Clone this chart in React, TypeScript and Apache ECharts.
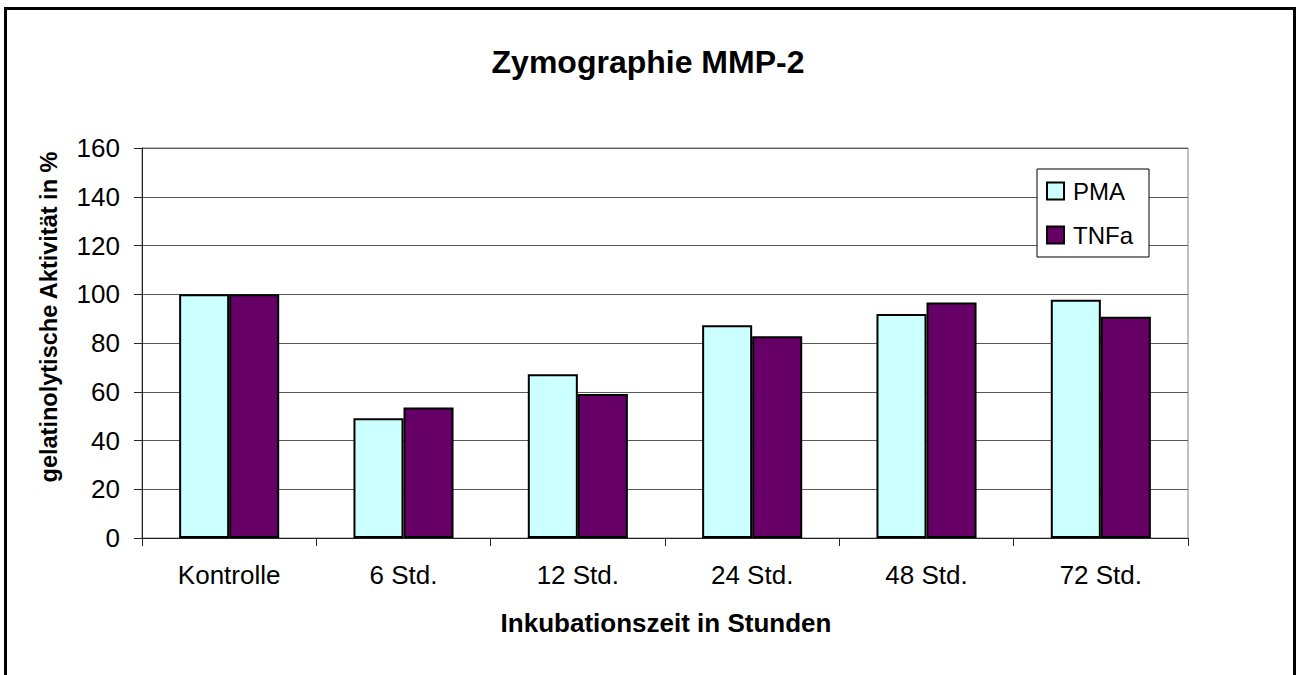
import React, { useEffect, useRef } from "react";
import * as echarts from "echarts";

const categories = ["Kontrolle", "6 Std.", "12 Std.", "24 Std.", "48 Std.", "72 Std."];
const pmaValues = [100, 49.1, 67.2, 87.3, 91.9, 97.7];
const tnfaValues = [100, 53.5, 59.1, 82.8, 96.6, 90.8];
const seriesNames = ["PMA", "TNFa"];
const titleText = "Zymographie MMP-2";
const yAxisName = "gelatinolytische Aktivität in %";
const xAxisName = "Inkubationszeit in Stunden";

const FONT = "'Liberation Sans', Arial, sans-serif";

export default function App() {
  const ref = useRef<HTMLDivElement>(null);
  useEffect(() => {
    if (!ref.current) return;
    const chart = echarts.init(ref.current, undefined, { renderer: "svg" });
    chart.setOption({
      animation: false,
      backgroundColor: "#ffffff",
      textStyle: { fontFamily: FONT },
      grid: { left: 142, top: 148, width: 1046, height: 390, show: true, borderColor: "#808080", borderWidth: 1, backgroundColor: "transparent" },
      legend: {
        data: seriesNames.map((n) => ({ name: n, icon: "rect" })),
        orient: "vertical",
        left: 1037,
        top: 169,
        itemWidth: 17,
        itemHeight: 17,
        itemGap: 20,
        padding: [10, 16, 10, 9],
        backgroundColor: "#ffffff",
        borderColor: "#000000",
        borderWidth: 1,
        textStyle: { fontFamily: FONT, fontSize: 24, color: "#000", lineHeight: 20, padding: [0, 0, 0, 4] },
        itemStyle: { borderColor: "#000", borderWidth: 2 },
      },
      xAxis: {
        type: "category",
        data: categories,
        axisLine: { lineStyle: { color: "#222", width: 1 } },
        axisTick: { show: true, length: 8, inside: false, lineStyle: { color: "#222" } },
        axisLabel: { fontFamily: FONT, fontSize: 26, color: "#000", margin: 24 },
        splitLine: { show: false },
      },
      yAxis: {
        type: "value",
        min: 0,
        max: 160,
        interval: 20,
        axisLine: { show: true, lineStyle: { color: "#222", width: 1 } },
        axisTick: { show: true, length: 8, lineStyle: { color: "#222" } },
        axisLabel: { fontFamily: FONT, fontSize: 26, color: "#000", margin: 22 },
        splitLine: { show: true, lineStyle: { color: "#595959", width: 1 } },
      },
      series: [
        {
          name: seriesNames[0],
          type: "bar",
          data: pmaValues,
          barGap: "0%",
          barCategoryGap: "42.6%",
          itemStyle: { color: "#CCFFFF", borderColor: "#000", borderWidth: 2 },
        },
        {
          name: seriesNames[1],
          type: "bar",
          data: tnfaValues,
          barGap: "0%",
          barCategoryGap: "42.6%",
          itemStyle: { color: "#660066", borderColor: "#000", borderWidth: 2 },
        },
      ],
      graphic: [
        {
          type: "rect",
          shape: { x: 5.5, y: 8.5, width: 1289, height: 700 },
          style: { fill: "none", stroke: "#000", lineWidth: 3 },
          silent: true,
          z: 100,
        },
        {
          type: "text",
          x: 648,
          y: 62,
          style: { text: titleText, font: `bold 32px ${FONT}`, fill: "#000", textAlign: "center", textVerticalAlign: "middle" },
        },
        {
          type: "text",
          x: 666,
          y: 623,
          style: { text: xAxisName, font: `bold 26px ${FONT}`, fill: "#000", textAlign: "center", textVerticalAlign: "middle" },
        },
        {
          type: "text",
          x: 49,
          y: 317,
          rotation: Math.PI / 2,
          style: { text: yAxisName, font: `bold 23.5px ${FONT}`, fill: "#000", textAlign: "center", textVerticalAlign: "middle" },
        },
      ],
    });
    return () => chart.dispose();
  }, []);
  return <div ref={ref} style={{ position: "absolute", left: 0, top: 0, width: 1296, height: 675 }} />;
}
